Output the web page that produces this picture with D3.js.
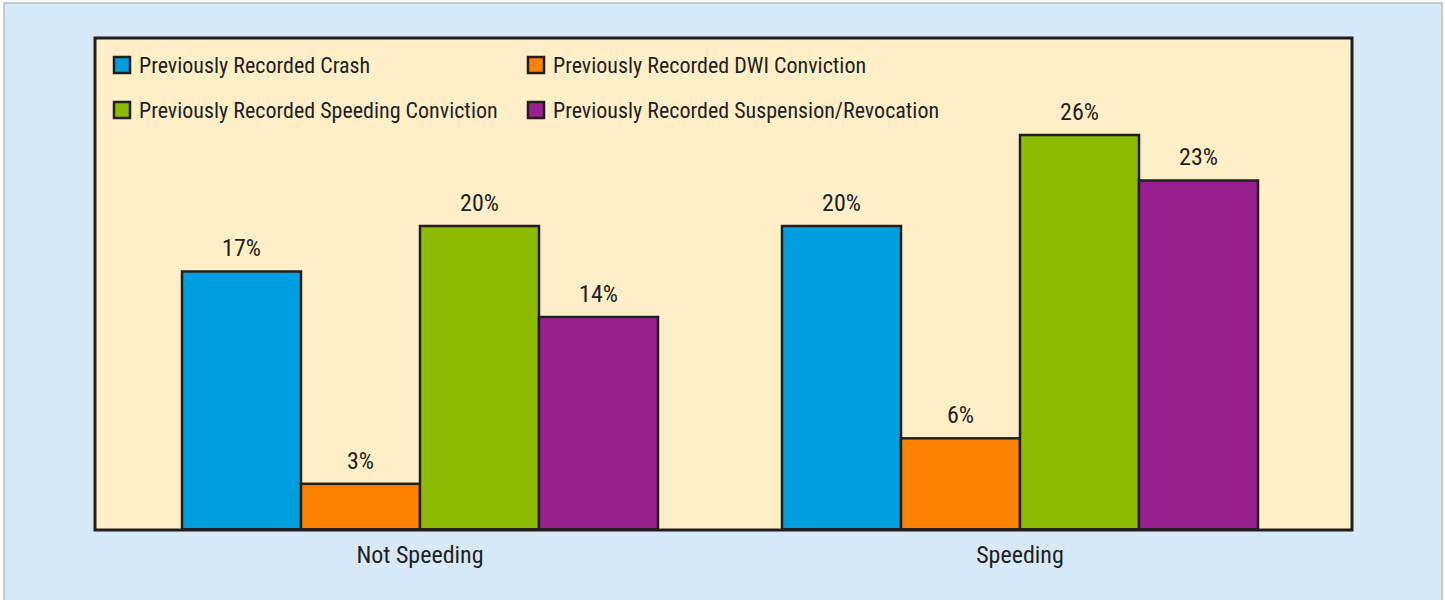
<!DOCTYPE html>
<html><head><meta charset="utf-8">
<script src="https://cdn.jsdelivr.net/npm/d3@7"></script>
<style>
html,body{margin:0;padding:0;background:#fff;}
svg{display:block;}
text{font-family:"Liberation Sans Narrow","Roboto Condensed","Liberation Sans",sans-serif;fill:#231f20;}
</style></head><body>
<svg id="c" width="1445" height="600"></svg>
<script>
const categories = ["Not Speeding", "Speeding"];
const seriesNames = ["Previously Recorded Crash", "Previously Recorded DWI Conviction", "Previously Recorded Speeding Conviction", "Previously Recorded Suspension/Revocation"];
const crash = [17, 20];
const dwi = [3, 6];
const speedingConv = [20, 26];
const suspension = [14, 23];
const seriesColors = ["#009fe0", "#ff8200", "#8cbb00", "#9a2090"];

const values = [crash, dwi, speedingConv, suspension];
const svg = d3.select("#c");

// outer background
svg.append("rect").attr("x",4).attr("y",3).attr("width",1438).attr("height",600).attr("fill","#d7e9f7").attr("stroke","#b9bcc0").attr("stroke-width",1.5);

const plot = {left:95, top:38, right:1352, bottom:530};
svg.append("rect").attr("x",plot.left).attr("y",plot.top).attr("width",plot.right-plot.left).attr("height",plot.bottom-plot.top)
  .attr("fill","#feefc7");

const x0 = d3.scaleBand().domain(categories).range([182, 1258]).paddingInner(0.2067).paddingOuter(0);
const x1 = d3.scaleBand().domain(d3.range(seriesNames.length)).range([0, x0.bandwidth()]);
const y = d3.scaleLinear().domain([0, 26]).range([529.3, 135]);

const g = svg.append("g");
categories.forEach((cat, ci) => {
  values.forEach((vals, si) => {
    const xs = x0(cat) + x1(si);
    g.append("rect").attr("x", xs).attr("y", y(vals[ci])).attr("width", x1.bandwidth()).attr("height", y(0)-y(vals[ci]))
      .attr("fill", seriesColors[si]).attr("stroke","#231f20").attr("stroke-width",2.5);
    g.append("text").attr("x", xs + x1.bandwidth()/2).attr("y", y(vals[ci]) - 15)
      .attr("text-anchor","middle").attr("font-size",24).text(vals[ci] + "%");
  });
});

// plot frame
svg.append("rect").attr("x",plot.left).attr("y",plot.top).attr("width",plot.right-plot.left).attr("height",plot.bottom-plot.top)
  .attr("fill","none").attr("stroke","#231f20").attr("stroke-width",3);

// category axis labels
const xAxis = d3.axisBottom(x0).tickSize(0).tickPadding(0);
const ax = svg.append("g").attr("transform","translate(0,563)").call(xAxis);
ax.select(".domain").remove();
ax.selectAll("text").attr("font-size",24).attr("dy","0").attr("y",0).attr("fill","#231f20");
ax.attr("font-family",null);

// legend
const legPos = [[113,65],[527,65],[113,110],[527,110]];
seriesNames.forEach((name, i) => {
  const [lx, ly] = legPos[i];
  svg.append("rect").attr("x", lx+1).attr("y", ly-8).attr("width",16).attr("height",16)
    .attr("fill", seriesColors[i]).attr("stroke","#231f20").attr("stroke-width",2.5);
  svg.append("text").attr("x", lx+26).attr("y", ly).attr("dy","0.35em").attr("font-size",22).text(name);
});
</script>
</body></html>
